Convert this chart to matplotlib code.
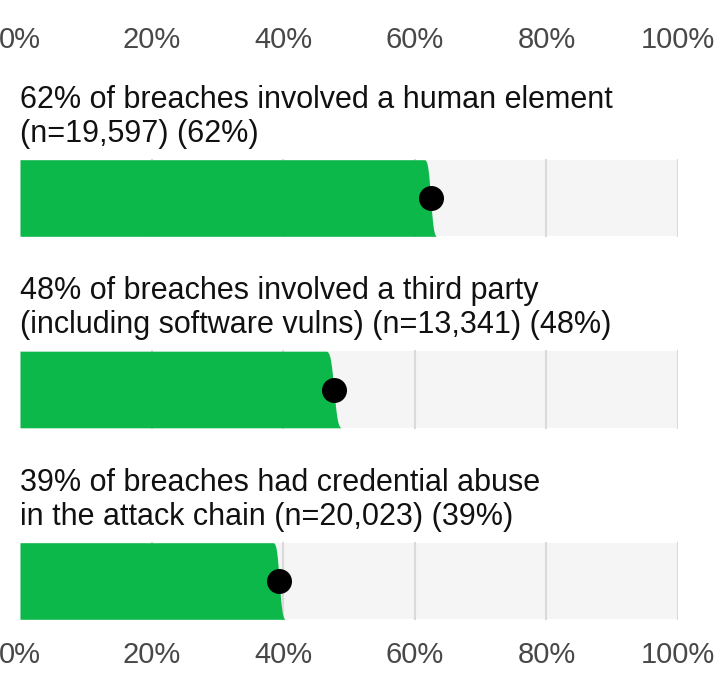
import matplotlib
matplotlib.use("Agg")
import matplotlib.pyplot as plt
import numpy as np
from statistics import NormalDist

# ---- data ----
titles = [
    "62% of breaches involved a human element\n(n=19,597) (62%)",
    "48% of breaches involved a third party\n(including software vulns) (n=13,341) (48%)",
    "39% of breaches had credential abuse\nin the attack chain (n=20,023) (39%)",
]
values = [62.4, 47.7, 39.4]    # percent (point estimates as drawn)
n_obs = [19597, 13341, 20023]
tick_values = [0, 20, 40, 60, 80, 100]
tick_labels = ["0%", "20%", "40%", "60%", "80%", "100%"]

GREEN = "#0db84a"
BG = "#f5f5f5"
GRID = "#dadada"
FONT = "Liberation Sans"

W, H = 715, 686
fig = plt.figure(figsize=(W / 100, H / 100), dpi=100)
T, B = 62, 628
L, R = 20, 678
ax = fig.add_axes([L / W, 1 - B / H, (R - L) / W, (B - T) / H])
unit = 191.5
c0 = 198
ax.set_ylim((B - c0) / unit, (T - c0) / unit)
ax.set_xlim(0, 100)

bar_h = 0.40
nd = NormalDist()
ps = np.linspace(0.005, 0.995, 200)
q = np.array([nd.inv_cdf(p) for p in ps])

for i, (v, n, t) in enumerate(zip(values, n_obs, titles)):
    top, bot = i - bar_h / 2, i + bar_h / 2
    ax.fill_between([0, 100], top, bot, color=BG, lw=0, zorder=1)
    for g in tick_values[1:]:
        ax.plot([g, g], [top, bot], color=GRID, lw=1.5, zorder=2)
    p = v / 100
    sd = np.sqrt(p * (1 - p) / n) * 100
    ys = np.linspace(top, bot, len(ps))
    xe = v + sd * q
    ax.fill_betweenx(ys, 0, xe, color=GREEN, lw=0, zorder=3)
    ax.scatter([v], [i], s=324, color="black", zorder=4, lw=0)
    ax.text(0, top - 18 / unit, t, ha="left", va="baseline", fontsize=22,
            color="#111111", linespacing=1.18, family=FONT, zorder=5)

ax.set_xticks(tick_values)
ax.set_xticklabels(tick_labels)
ax.tick_params(axis="x", which="both", length=0, labelsize=21,
               labelcolor="#484848", pad=9.4)
for lab in ax.get_xticklabels():
    lab.set_family(FONT)

sec = ax.secondary_xaxis("top")
sec.set_xticks(tick_values)
sec.set_xticklabels(tick_labels)
sec.tick_params(axis="x", length=0, labelsize=21, labelcolor="#484848", pad=6)
for lab in sec.get_xticklabels():
    lab.set_family(FONT)
for s in sec.spines.values():
    s.set_visible(False)

ax.set_yticks([])
for s in ax.spines.values():
    s.set_visible(False)
ax.patch.set_alpha(0)

fig.savefig("out.png", dpi=100)
